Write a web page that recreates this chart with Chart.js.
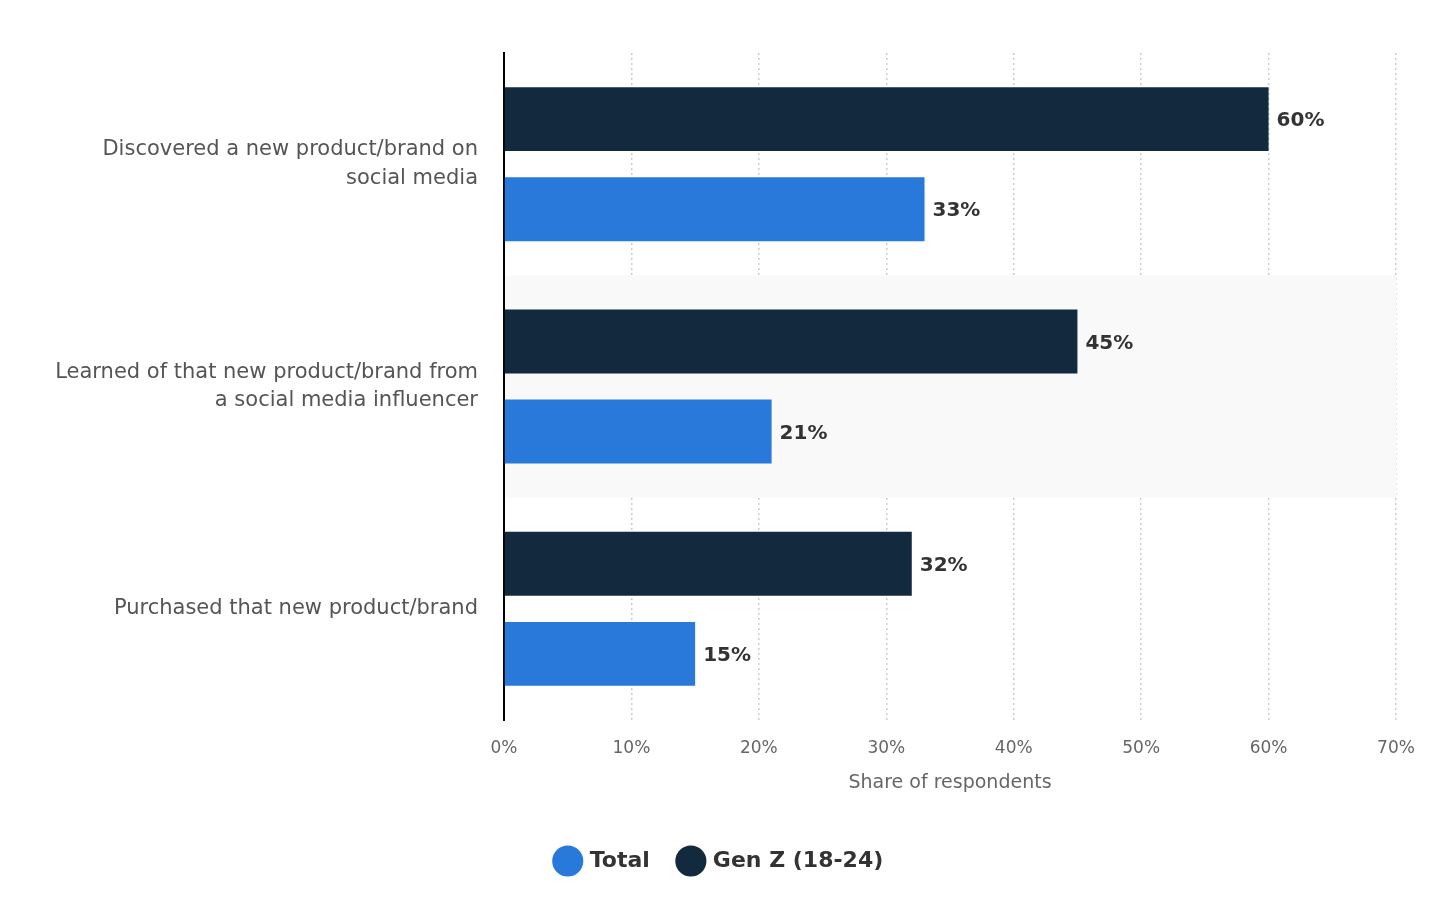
<!DOCTYPE html>
<html lang="en">
<head>
<meta charset="UTF-8">
<title>Social media and new products</title>
<script src="https://cdn.jsdelivr.net/npm/chart.js"></script>
<style>
  html, body { margin: 0; padding: 0; background: #fff; }
  #wrap { width: 1438px; height: 924px; }
</style>
</head>
<body>
<div id="wrap"><canvas id="myChart" width="1438" height="924"></canvas></div>
<script>
// chart data
const categories = [
  ['Discovered a new product/brand on', 'social media'],
  ['Learned of that new product/brand from', 'a social media influencer'],
  ['Purchased that new product/brand']
];
const genZValues = [60, 45, 32];
const totalValues = [33, 21, 15];
const seriesNames = ['Gen Z (18-24)', 'Total'];
const xTicks = [0, 10, 20, 30, 40, 50, 60, 70];

const FONT = '"DejaVu Sans", sans-serif';

// light band behind every second category
const bandPlugin = {
  id: 'band',
  beforeDatasetsDraw(chart) {
    const y = chart.scales.y, area = chart.chartArea, ctx = chart.ctx;
    const step = (area.bottom - area.top) / categories.length;
    ctx.save();
    ctx.fillStyle = '#f9f9f9';
    for (let i = 1; i < categories.length; i += 2) {
      const c = y.getPixelForValue(i);
      ctx.fillRect(area.left + 1, c - step / 2, area.right - area.left - 1, step);
    }
    ctx.restore();
  }
};

// value labels at the end of the bars
const valueLabels = {
  id: 'valueLabels',
  afterDatasetsDraw(chart) {
    const ctx = chart.ctx;
    ctx.save();
    ctx.font = 'bold 20px ' + FONT;
    ctx.fillStyle = '#333';
    ctx.textBaseline = 'middle';
    ctx.textAlign = 'left';
    chart.data.datasets.forEach((ds, i) => {
      chart.getDatasetMeta(i).data.forEach((bar, j) => {
        ctx.fillText(ds.data[j] + '%', bar.x + 8, bar.y + 2);
      });
    });
    ctx.restore();
  }
};

const ctx = document.getElementById('myChart').getContext('2d');
new Chart(ctx, {
  type: 'bar',
  data: {
    labels: categories,
    datasets: [
      { label: seriesNames[0], data: genZValues, backgroundColor: '#13293d' },
      { label: seriesNames[1], data: totalValues, backgroundColor: '#2979db' }
    ]
  },
  options: {
    indexAxis: 'y',
    responsive: false,
    animation: false,
    categoryPercentage: 0.81,
    barPercentage: 0.71,
    layout: { padding: { top: 53, right: 42, left: 44, bottom: 42 } },
    scales: {
      x: {
        min: 0,
        max: 70,
        afterBuildTicks(scale) { scale.ticks = xTicks.map(v => ({ value: v })); },
        afterFit(scale) { scale.height = 100; },
        ticks: {
          callback: v => v + '%',
          color: '#666',
          font: { family: FONT, size: 17 },
          padding: 18,
          maxRotation: 0
        },
        grid: { color: '#cccccc', lineWidth: 1.5, drawTicks: false },
        border: { display: false, dash: [2, 3] },
        title: {
          display: true,
          text: 'Share of respondents',
          color: '#666',
          font: { family: FONT, size: 19 },
          padding: { top: 8, bottom: 26 }
        }
      },
      y: {
        afterFit(scale) { scale.width = 460; },
        ticks: {
          color: '#555',
          font: { family: FONT, size: 21, lineHeight: 1.35 },
          padding: 26
        },
        grid: { display: false, drawTicks: false },
        border: { display: true, color: '#000', width: 2 }
      }
    },
    plugins: {
      tooltip: { enabled: false },
      legend: {
        position: 'bottom',
        labels: {
          sort: (a, b) => b.datasetIndex - a.datasetIndex,
          usePointStyle: true,
          pointStyle: 'circle',
          boxWidth: 24,
          boxHeight: 24,
          padding: 30,
          color: '#333',
          font: { family: FONT, size: 22, weight: 'bold' }
        }
      }
    }
  },
  plugins: [bandPlugin, valueLabels]
});
</script>
</body>
</html>
